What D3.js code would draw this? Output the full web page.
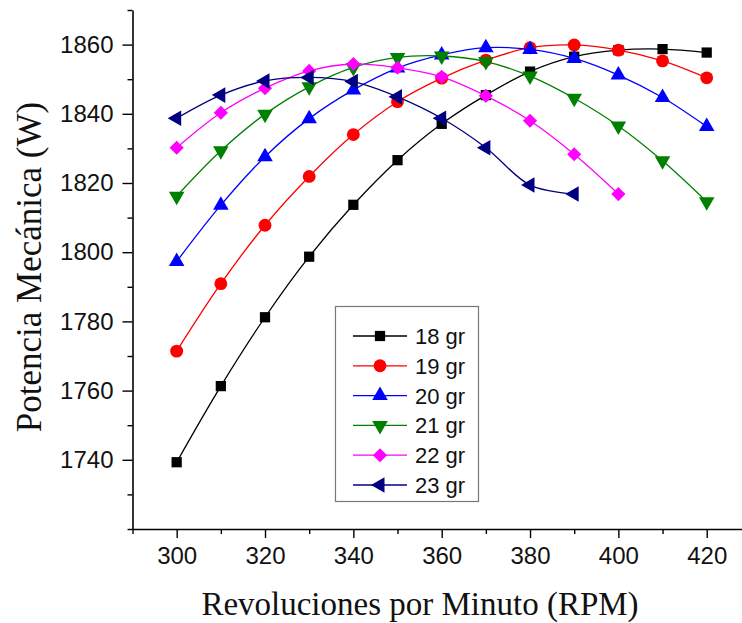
<!DOCTYPE html>
<html>
<head>
<meta charset="utf-8">
<script src="https://cdn.jsdelivr.net/npm/d3@7"></script>
<style>
  html, body { margin: 0; padding: 0; background: #fff; }
  svg { display: block; }
</style>
</head>
<body>
<svg id="chart" width="742" height="623"></svg>
<script>
// Mechanical power vs rotor speed, one curve per blade mass
const rpm = [300, 310, 320, 330, 340, 350, 360, 370, 380, 390, 400, 410, 420];

const g18 = [1739.3, 1761.3, 1781.2, 1798.7, 1813.7, 1826.6, 1837.1, 1845.4, 1852.2, 1856.5, 1858.4, 1858.7, 1857.7];
const g19 = [1771.4, 1790.9, 1807.8, 1821.9, 1834.0, 1843.5, 1850.3, 1855.5, 1859.1, 1859.9, 1858.4, 1855.3, 1850.4];
const g20 = [1797.3, 1813.6, 1827.6, 1838.6, 1846.9, 1853.2, 1857.0, 1859.1, 1858.6, 1856.0, 1851.2, 1844.7, 1836.3];
const g21 = [1816.2, 1829.3, 1839.9, 1847.8, 1853.4, 1856.3, 1856.7, 1855.1, 1850.9, 1844.5, 1836.5, 1826.4, 1814.6];
const g22 = [1830.2, 1840.3, 1847.4, 1852.4, 1854.4, 1853.3, 1850.7, 1845.2, 1838.0, 1828.3, 1816.8];
const g23 = [1838.7, 1845.4, 1849.5, 1850.5, 1849.3, 1844.9, 1838.7, 1830.2, 1819.4, 1816.8];

const seriesNames = ["18 gr", "19 gr", "20 gr", "21 gr", "22 gr", "23 gr"];
const seriesValues = [g18, g19, g20, g21, g22, g23];

const xTicksMajor = [300, 320, 340, 360, 380, 400, 420];
const xTicksMinor = [290, 310, 330, 350, 370, 390, 410, 430];
const yTicksMajor = [1740, 1760, 1780, 1800, 1820, 1840, 1860];
const yTicksMinor = [1720, 1730, 1750, 1770, 1790, 1810, 1830, 1850, 1870];

const xTitle = "Revoluciones por Minuto (RPM)";
const yTitle = "Potencia Mecánica (W)";

// styling per series: colour, symbol type, rotation, symbol area
const styles = [
  { color: "#000000", type: d3.symbolSquare,   rot: 0,   size: 105 },
  { color: "#ff0000", type: d3.symbolCircle,   rot: 0,   size: 130 },
  { color: "#0000ff", type: d3.symbolTriangle, rot: 0,   size: 105 },
  { color: "#008000", type: d3.symbolTriangle, rot: 180, size: 105 },
  { color: "#ff00ff", type: d3.symbolSquare,   rot: 45,  size: 100 },
  { color: "#000080", type: d3.symbolTriangle, rot: -90, size: 105 }
];

const svg = d3.select("#chart");
svg.append("rect").attr("width", 742).attr("height", 623).attr("fill", "#fff");

const x0 = 132.5, yBottom = 529, yTop = 10;
const pxPerRpm = 4.417;
const x = d3.scaleLinear().domain([290, 430]).range([x0, x0 + 140 * pxPerRpm]);
const y = d3.scaleLinear().domain([1720, 1870]).range([yBottom, yTop]);

const sans = "'Liberation Sans', Arial, sans-serif";
const serif = "'Liberation Serif', 'Times New Roman', serif";

// axes
const xAxisG = svg.append("g").attr("transform", `translate(0,${yBottom})`);
xAxisG.call(d3.axisBottom(x).tickValues(xTicksMajor).tickSize(9).tickSizeOuter(0).tickPadding(9)
  .tickFormat(d3.format("d")));
xAxisG.append("g").call(d3.axisBottom(x).tickValues(xTicksMinor).tickSize(5).tickFormat(""))
  .select(".domain").remove();

const yAxisG = svg.append("g").attr("transform", `translate(${x0},0)`);
yAxisG.call(d3.axisLeft(y).tickValues(yTicksMajor).tickSize(10).tickSizeOuter(0).tickPadding(9)
  .tickFormat(d3.format("d")));
yAxisG.append("g").call(d3.axisLeft(y).tickValues(yTicksMinor).tickSize(5).tickFormat(""))
  .select(".domain").remove();

svg.selectAll(".domain").attr("stroke", "#000").attr("stroke-width", 1.6);
svg.selectAll(".tick line").attr("stroke", "#000").attr("stroke-width", 1.4);
svg.selectAll(".tick text").attr("font-family", sans).attr("font-size", 24).attr("fill", "#111");

// axis titles
svg.append("text")
  .attr("x", 420).attr("y", 615)
  .attr("text-anchor", "middle")
  .attr("font-family", serif).attr("font-size", 33).attr("fill", "#111")
  .text(xTitle);

svg.append("text")
  .attr("transform", `translate(41,267) rotate(-90)`)
  .attr("text-anchor", "middle")
  .attr("font-family", serif).attr("font-size", 35).attr("fill", "#111")
  .text(yTitle);

// series
const line = d3.line()
  .x(d => x(d[0]))
  .y(d => y(d[1]))
  .curve(d3.curveCatmullRom.alpha(0.5));

seriesValues.forEach((vals, i) => {
  const st = styles[i];
  const pts = vals.map((v, j) => [rpm[j], v]);
  const g = svg.append("g");
  g.append("path")
    .datum(pts)
    .attr("d", line)
    .attr("fill", "none")
    .attr("stroke", st.color)
    .attr("stroke-width", 1.3);
  g.selectAll("path.m")
    .data(pts)
    .join("path")
    .attr("class", "m")
    .attr("d", d3.symbol().type(st.type).size(st.size))
    .attr("transform", d => `translate(${x(d[0])},${y(d[1])}) rotate(${st.rot})`)
    .attr("fill", st.color);
});

// legend
const lg = svg.append("g");
lg.append("rect")
  .attr("x", 335.5).attr("y", 306.5).attr("width", 143).attr("height", 195)
  .attr("fill", "#fff").attr("stroke", "#777").attr("stroke-width", 1.2);

seriesNames.forEach((name, i) => {
  const st = styles[i];
  const cy = 336 + i * 29.8;
  lg.append("line")
    .attr("x1", 353).attr("x2", 407).attr("y1", cy).attr("y2", cy)
    .attr("stroke", st.color).attr("stroke-width", 1.3);
  lg.append("path")
    .attr("d", d3.symbol().type(st.type).size(st.size)())
    .attr("transform", `translate(380,${cy}) rotate(${st.rot})`)
    .attr("fill", st.color);
  lg.append("text")
    .attr("x", 415).attr("y", cy + 8)
    .attr("font-family", sans).attr("font-size", 22).attr("fill", "#111")
    .text(name);
});
</script>
</body>
</html>
